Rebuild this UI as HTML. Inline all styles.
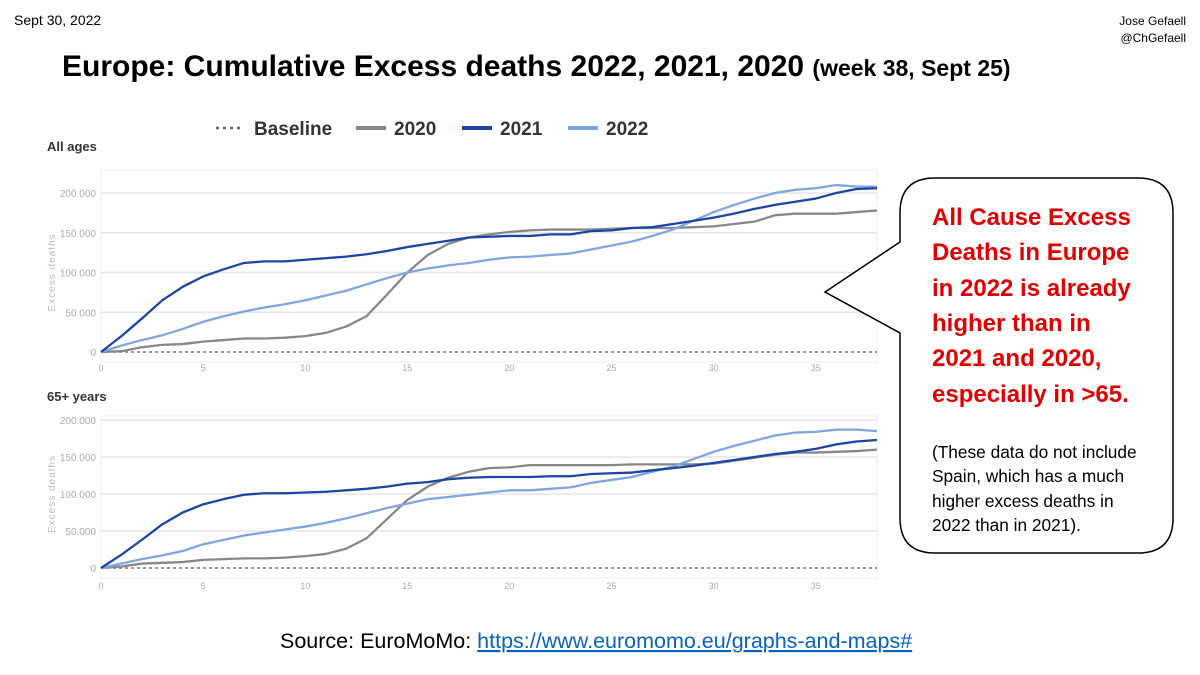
<!DOCTYPE html>
<html><head><meta charset="utf-8"><style>
body{margin:0;background:#fff;}
svg{display:block;}
</style></head><body>
<svg id="root" width="1200" height="675" viewBox="0 0 1200 675" xmlns="http://www.w3.org/2000/svg" font-family="Liberation Sans, sans-serif">
<text x="14" y="25" font-size="14" fill="#000">Sept 30, 2022</text>
<text x="1186" y="25" font-size="12" text-anchor="end">Jose Gefaell</text>
<text x="1186" y="42" font-size="12" text-anchor="end">@ChGefaell</text>
<text x="62" y="76" font-size="30" font-weight="bold">Europe: Cumulative Excess deaths 2022, 2021, 2020 <tspan font-size="23">(week 38, Sept 25)</tspan></text>
<g font-size="19" font-weight="bold" fill="#333">
<g><line x1="216" y1="128" x2="244" y2="128" stroke="#666" stroke-width="2.5" stroke-dasharray="3,4"/><text x="254" y="135">Baseline</text></g>
<g><line x1="356" y1="128" x2="386" y2="128" stroke="#888" stroke-width="4"/><text x="394" y="135">2020</text></g>
<g><line x1="462" y1="128" x2="492" y2="128" stroke="#1c45a6" stroke-width="4"/><text x="500" y="135">2021</text></g>
<g><line x1="568" y1="128" x2="598" y2="128" stroke="#7fa6e0" stroke-width="4"/><text x="606" y="135">2022</text></g>
</g>
<text x="47" y="151" font-size="13" font-weight="bold" fill="#333">All ages</text>
<text x="47" y="401" font-size="13" font-weight="bold" fill="#333">65+ years</text>
<g id="chart1"></g>
<g id="chart2"></g>
<g>
<path d="M935,178 H1138 Q1173,178 1173,213 V518 Q1173,553 1138,553 H935 Q900,553 900,518 V333 L825,292 L900,242 V213 Q900,178 935,178 Z" fill="#fff" stroke="#000" stroke-width="1.5"/>
<g font-size="24" font-weight="bold" fill="#e00000">
<text x="932" y="225">All Cause Excess</text>
<text x="932" y="260">Deaths in Europe</text>
<text x="932" y="296">in 2022 is already</text>
<text x="932" y="331">higher than in</text>
<text x="932" y="366">2021 and 2020,</text>
<text x="932" y="402">especially in &gt;65.</text>
</g>
<g font-size="17.3" fill="#000">
<text x="932" y="458">(These data do not include</text>
<text x="932" y="482">Spain, which has a much</text>
<text x="932" y="507">higher excess deaths in</text>
<text x="932" y="531">2022 than in 2021).</text>
</g>
</g>
<text x="280" y="648" font-size="21.5">Source: EuroMoMo: <tspan fill="#0563c1" text-decoration="underline">https://www.euromomo.eu/graphs-and-maps#</tspan></text>
</svg>
<script>
const weeks=[];for(let i=0;i<=38;i++)weeks.push(i);
const xTicks=[0,5,10,15,20,25,30,35];
const yTicks=[0,50,100,150,200];
const yTickLabels=["0","50.000","100.000","150.000","200.000"];
const all2020=[0,1,6,9,10,13,15,17,17,18,20,24,32,45,72,100,122,136,144,148,151,153,154,154,154,155,156,156,156,157,158,161,164,172,174,174,174,176,178];
const all2021=[0,20,42,65,82,95,104,112,114,114,116,118,120,123,127,132,136,140,144,145,146,146,148,148,152,153,156,157,161,165,169,174,180,185,189,193,200,205,206];
const all2022=[0,8,15,21,29,38,45,51,56,60,65,71,77,85,93,100,105,109,112,116,119,120,122,124,129,134,139,146,154,165,176,185,193,200,204,206,210,208,208];
const old2020=[0,2,6,7,8,11,12,13,13,14,16,19,26,40,66,92,110,122,130,135,136,139,139,139,139,139,140,140,140,140,141,145,149,153,156,156,157,158,160];
const old2021=[0,18,38,59,75,86,93,99,101,101,102,103,105,107,110,114,116,120,122,123,123,123,124,124,127,128,129,132,135,138,142,146,150,154,157,161,167,171,173];
const old2022=[0,6,12,17,23,32,38,44,48,52,56,61,67,74,81,87,93,96,99,102,105,105,107,109,115,119,123,130,137,147,157,165,172,179,183,184,187,187,185];
const NS="http://www.w3.org/2000/svg";
function mk(tag,attrs,parent){const e=document.createElementNS(NS,tag);for(const k in attrs)e.setAttribute(k,attrs[k]);parent.appendChild(e);return e;}
function draw(gid,y0,y200,top,series,tickY){
  const g=document.getElementById(gid);
  const x=w=>101+w*(877-101)/38;
  const y=v=>y0+(y200-y0)*v/200;
  const frame=mk('rect',{x:101,y:top,width:776,height:y0+10-top,fill:'none',stroke:'#eee'},g);
  
  
  yTicks.forEach((t,i)=>{
    if(t>0){const l=mk('line',{x1:101,x2:877,y1:y(t),y2:y(t),stroke:'#e6e6e6','stroke-width':1.5},g);
    
    }
    const tx=mk('text',{x:96,y:y(t)+4,'font-size':10,fill:'#aaa','text-anchor':'end'},g);
    
    
    tx.textContent=yTickLabels[i];
  });
  xTicks.forEach(t=>{
    const tx=mk('text',{x:x(t),y:tickY,'font-size':9,fill:'#aaa','text-anchor':'middle'},g);
    
    
    tx.textContent=t;
  });
  const cy=(y0+y200)/2;
  const at=mk('text',{x:55,y:cy,'font-size':10,fill:'#bbb','text-anchor':'middle',transform:`rotate(-90 55 ${cy})`,'letter-spacing':'1'},g);
  
  
  at.textContent='Excess deaths';
  const b=mk('line',{x1:101,x2:877,y1:y0,y2:y0,stroke:'#777','stroke-width':1.5,'stroke-dasharray':'3,3'},g);
  
  
  series.forEach(s=>{
    const p=mk('polyline',{points:s.d.map((v,i)=>x(weeks[i])+','+y(v)).join(' '),fill:'none',stroke:s.c,'stroke-width':2.3,'stroke-linejoin':'round'},g);
    
    
  });
}
draw('chart1',352,193,170,[{d:all2020,c:'#888',n:'line-2020'},{d:all2022,c:'#7fa6e0',n:'line-2022'},{d:all2021,c:'#1c45a6',n:'line-2021'}],371);
draw('chart2',568,420,416,[{d:old2020,c:'#888',n:'line-2020'},{d:old2022,c:'#7fa6e0',n:'line-2022'},{d:old2021,c:'#1c45a6',n:'line-2021'}],589);
</script>
</body></html>
